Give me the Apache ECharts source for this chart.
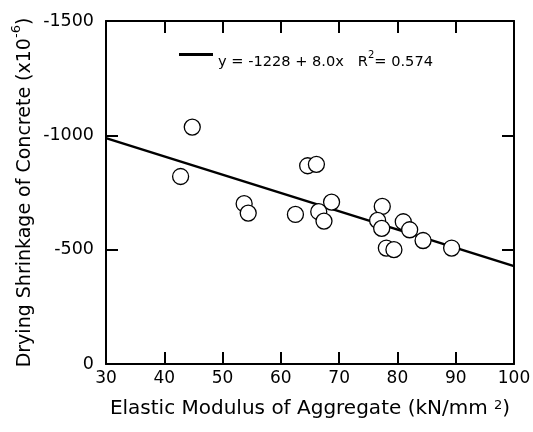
<!DOCTYPE html>
<html>
<head>
<meta charset="utf-8">
<script src="https://cdn.jsdelivr.net/npm/echarts@6/dist/echarts.min.js"></script>
<style>
  html, body { margin: 0; padding: 0; background: #fff; }
  #chart { width: 533px; height: 432px; }
</style>
</head>
<body>
<div id="chart"></div>
<script>
// elastic modulus of aggregate (kN/mm2)
var modulus = [44.8, 42.8, 53.7, 54.4, 62.5, 64.6, 66.1, 66.5, 67.4, 68.7, 77.4, 76.6, 77.3, 78.1, 79.4, 81.0, 82.1, 84.4, 89.3];
// drying shrinkage (x10^-6)
var shrinkage = [-1036, -820, -701, -660, -654, -867, -873, -666, -625, -708, -689, -628, -593, -507, -500, -622, -587, -540, -507];
// regression line y = -1228 + 8.0x, end points
var fitX = [30, 100];
var fitY = [-988, -428];
var xTicks = [30, 40, 50, 60, 70, 80, 90, 100];
var yTicks = [-1500, -1000, -500, 0];

var font = 'DejaVu Sans';
var chart = echarts.init(document.getElementById('chart'));

var points = modulus.map(function (x, i) { return [x, shrinkage[i]]; });
var fitLine = fitX.map(function (x, i) { return [x, fitY[i]]; });

var axisLineStyle = { color: '#000', width: 2 };
var tickStyle = { show: true, inside: true, length: 12, lineStyle: { color: '#000', width: 2 } };

var option = {
  backgroundColor: '#fff',
  animation: false,
  textStyle: { fontFamily: font },
  grid: { left: 106, right: 19, top: 21, bottom: 68, containLabel: false, outerBoundsMode: 'none' },
  legend: {
    left: 174,
    top: 45,
    padding: 5,
    itemWidth: 34,
    itemHeight: 3,
    data: [{ name: 'fit', icon: 'rect' }],
    formatter: function () {
      return '{n|y = -1228 + 8.0x   R}{sup|2}{n|= 0.574}';
    },
    textStyle: {
      fontFamily: font,
      fontSize: 15,
      color: '#000',
      padding: [15, 0, 0, 0],
      rich: {
        n: { fontFamily: font, fontSize: 14.6, color: '#000', lineHeight: 17 },
        sup: { fontFamily: font, fontSize: 10, color: '#000', lineHeight: 8, padding: [0, 0, 14, 0] }
      }
    }
  },
  xAxis: [{
    type: 'value',
    min: xTicks[0],
    max: xTicks[xTicks.length - 1],
    interval: 10,
    name: '{n|Elastic Modulus of Aggregate (kN/mm }{sup|2}{n|)}',
    nameLocation: 'middle',
    nameGap: 39,
    nameMoveOverlap: false,
    nameTextStyle: {
      fontFamily: font, fontSize: 20, color: '#000',
      rich: {
        n: { fontFamily: font, fontSize: 20, color: '#000', lineHeight: 12 },
        sup: { fontFamily: font, fontSize: 13, color: '#000', lineHeight: 8, padding: [0, 0, 6, 0] }
      }
    },
    axisLine: { show: true, onZero: false, lineStyle: axisLineStyle },
    axisTick: tickStyle,
    axisLabel: { fontFamily: font, fontSize: 17, color: '#000', margin: 6 },
    splitLine: { show: false }
  }, {
    type: 'value',
    position: 'top',
    min: xTicks[0],
    max: xTicks[xTicks.length - 1],
    interval: 10,
    axisLine: { show: true, onZero: false, lineStyle: axisLineStyle },
    axisTick: tickStyle,
    axisLabel: { show: false },
    splitLine: { show: false }
  }],
  yAxis: [{
    type: 'value',
    inverse: true,
    min: yTicks[0],
    max: yTicks[yTicks.length - 1],
    interval: 500,
    name: '{n|Drying Shrinkage of Concrete (x10}{sup|-6}{n|)}',
    nameLocation: 'middle',
    nameGap: 71,
    nameMoveOverlap: false,
    nameTextStyle: {
      fontFamily: font, fontSize: 19, color: '#000',
      rich: {
        n: { fontFamily: font, fontSize: 19, color: '#000', lineHeight: 20 },
        sup: { fontFamily: font, fontSize: 13, color: '#000', lineHeight: 10, padding: [0, 0, 17, 0] }
      }
    },
    axisLine: { show: true, onZero: false, lineStyle: axisLineStyle },
    axisTick: tickStyle,
    axisLabel: {
      fontFamily: font, fontSize: 17.5, color: '#000', margin: 12,
      formatter: function (v) { return String(v); }
    },
    splitLine: { show: false }
  }, {
    type: 'value',
    position: 'right',
    inverse: true,
    min: yTicks[0],
    max: yTicks[yTicks.length - 1],
    interval: 500,
    axisLine: { show: true, onZero: false, lineStyle: axisLineStyle },
    axisTick: tickStyle,
    axisLabel: { show: false },
    splitLine: { show: false }
  }],
  series: [{
    name: 'fit',
    type: 'line',
    data: fitLine,
    symbol: 'none',
    lineStyle: { color: '#000', width: 2.5 },
    itemStyle: { color: '#000' },
    z: 2
  }, {
    name: 'data',
    type: 'scatter',
    data: points,
    symbol: 'circle',
    symbolSize: 16,
    itemStyle: { color: '#fff', borderColor: '#000', borderWidth: 1.3, opacity: 1 },
    z: 3
  }]
};

chart.setOption(option);
</script>
</body>
</html>
